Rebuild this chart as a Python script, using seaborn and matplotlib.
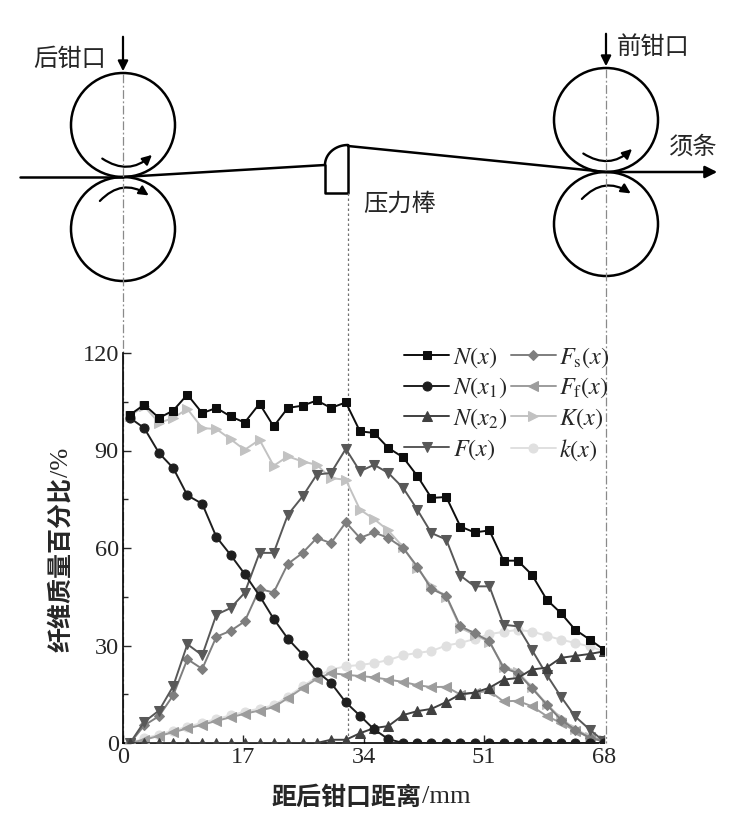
import matplotlib
matplotlib.use("Agg")
import matplotlib.pyplot as plt
from matplotlib.patches import Circle, FancyArrowPatch
import seaborn as sns
import numpy as np

# 测点位置 (mm) 与各曲线数值 (%)
x_mm = [1.0, 3.0, 5.1, 7.1, 9.1, 11.2, 13.2, 15.2, 17.2, 19.3, 21.3, 23.3,
        25.4, 27.4, 29.4, 31.5, 33.5, 35.5, 37.5, 39.6, 41.6, 43.6, 45.7,
        47.7, 49.7, 51.8, 53.8, 55.8, 57.8, 59.9, 61.9, 63.9, 66.0, 68.0]

N_x = [101.0, 104.1, 100.0, 102.3, 107.2, 101.5, 103.1, 100.5, 98.6, 104.4,
       97.4, 103.1, 103.8, 105.4, 103.1, 104.8, 95.9, 95.4, 90.8, 87.9, 82.2,
       75.4, 75.7, 66.6, 64.8, 65.4, 56.1, 56.1, 51.8, 44.1, 40.0, 34.9, 31.8, 28.7]
N_x1 = [100.0, 96.9, 89.2, 84.6, 76.2, 73.6, 63.4, 57.9, 52.0, 45.3, 38.2,
        32.1, 27.2, 22.0, 18.5, 12.5, 8.4, 4.2, 1.2, 0.0, 0.0, 0.0, 0.0, 0.0,
        0.0, 0.0, 0.0, 0.0, 0.0, 0.0, 0.0, 0.0, 0.0, 0.0]
N_x2 = [0.0, 0.0, 0.0, 0.0, 0.0, 0.0, 0.0, 0.0, 0.0, 0.0, 0.0, 0.0, 0.0, 0.0,
        1.0, 1.0, 3.0, 4.6, 5.2, 8.6, 9.8, 10.5, 12.6, 15.0, 15.5, 17.0, 19.5,
        20.0, 22.6, 23.2, 26.2, 26.8, 27.4, 28.2]
F_x = [0.0, 6.5, 10.0, 17.5, 30.4, 27.0, 39.5, 41.5, 46.2, 58.5, 58.5, 70.2,
       75.9, 82.6, 83.1, 90.5, 83.6, 85.6, 83.1, 78.5, 71.8, 64.6, 62.6, 51.5,
       48.2, 48.2, 36.4, 35.9, 28.7, 21.0, 14.3, 8.2, 4.1, 0.5]
Fs_x = [0.0, 5.4, 8.3, 14.7, 25.8, 22.8, 32.7, 34.5, 37.4, 47.4, 46.3, 55.1,
        58.5, 63.1, 61.5, 67.9, 63.1, 64.8, 63.1, 60.0, 54.3, 47.4, 45.3, 35.9,
        33.8, 31.3, 23.1, 21.5, 16.9, 11.8, 7.2, 4.1, 1.5, 0.5]
Ff_x = [0.0, 1.0, 2.2, 3.3, 4.5, 5.6, 6.8, 7.9, 9.0, 10.0, 11.0, 13.8, 16.9,
        19.8, 21.5, 21.0, 20.6, 20.2, 19.5, 18.8, 17.8, 17.2, 17.3, 14.9, 15.5,
        16.0, 12.8, 13.0, 11.3, 8.3, 6.2, 3.8, 1.8, 0.8]
K_x = [100.7, 103.6, 98.5, 100.0, 102.8, 96.9, 96.6, 93.5, 90.2, 93.3, 85.3,
       88.2, 86.6, 85.6, 81.5, 81.0, 71.8, 68.9, 65.4, 60.3, 53.8, 48.2, 45.0,
       35.4, 33.3, 31.0, 23.5, 22.0, 17.2, 12.0, 7.7, 4.3, 2.0, 0.8]
k_x = [0.0, 1.4, 2.6, 3.8, 5.0, 6.2, 7.4, 8.5, 9.6, 10.6, 11.6, 14.3, 17.4,
       20.4, 22.6, 23.6, 24.0, 24.6, 25.5, 27.0, 27.7, 28.3, 30.0, 30.8, 32.0,
       33.5, 34.2, 34.8, 34.3, 33.0, 31.8, 30.8, 29.7, 28.2]

labels = [r"$N(x)$", r"$N(x_1)$", r"$N(x_2)$", r"$F(x)$",
          r"$F_\mathrm{s}(x)$", r"$F_\mathrm{f}(x)$", r"$K(x)$", r"$k(x)$"]
values = [N_x, N_x1, N_x2, F_x, Fs_x, Ff_x, K_x, k_x]
colors = ["#0d0d0d", "#1e1e1e", "#404040", "#585858",
          "#7e7e7e", "#9c9c9c", "#c2c2c2", "#e0e0e0"]
markers = ["s", "o", "^", "v", "D", "<", ">", "o"]
msizes = [6, 6.5, 7, 7.5, 5.5, 7, 7, 6.5]

x_ticks = [0, 17, 34, 51, 68]
y_ticks = [0, 30, 60, 90, 120]

sns.set_style("ticks")
plt.rcParams["font.family"] = ["Liberation Serif", "Noto Sans CJK SC"]
plt.rcParams["mathtext.fontset"] = "stix"
cjk = ["Noto Sans CJK SC", "DejaVu Sans"]

W, H = 735, 836
fig = plt.figure(figsize=(W / 100, H / 100), dpi=100)

# 上方示意图（像素坐标）
deco = fig.add_axes([0, 0, 1, 1])
deco.set_xlim(0, W)
deco.set_ylim(H, 0)
deco.axis("off")

lk = dict(color="black", lw=1.8)
for cx, cy in [(123, 125), (123, 229), (606, 120), (606, 224)]:
    deco.add_patch(Circle((cx, cy), 52, fill=False, **lk))

# 须条与压力棒
deco.plot([20, 123], [177, 177], **lk)
deco.plot([123, 325], [177, 165], **lk)
t = np.linspace(np.pi, np.pi / 2, 30)
deco.plot(348 + 23 * np.cos(t), 165 - 20 * np.sin(t), **lk)
deco.plot([325, 325, 348, 348], [165, 193, 193, 145], **lk)
deco.plot([348, 606], [146, 172], **lk)
deco.annotate("", xy=(720, 172), xytext=(604, 172),
              arrowprops=dict(arrowstyle="-|>", lw=1.8, color="black", mutation_scale=18))

# 压力箭头
for cx, y0, y1 in [(123, 34, 74), (606, 31, 69)]:
    deco.annotate("", xy=(cx, y1), xytext=(cx, y0),
                  arrowprops=dict(arrowstyle="-|>", lw=1.6, color="black", mutation_scale=15))

# 罗拉转向弧形箭头
for p0, p1, rad in [((100, 157), (154, 153), 0.42), ((98, 203), (151, 197), -0.45),
                    ((581, 152), (634, 147), 0.42), ((580, 201), (633, 195), -0.45)]:
    deco.add_patch(FancyArrowPatch(p0, p1, connectionstyle=f"arc3,rad={rad}",
                                   arrowstyle="-|>", mutation_scale=14, lw=1.6, color="black"))

# 竖直参考线
deco.plot([123, 123], [74, 743], color="#8a8a8a", lw=0.9, linestyle=(0, (7, 2, 1.5, 2)))
deco.plot([606, 606], [69, 743], color="#8a8a8a", lw=0.9, linestyle=(0, (7, 2, 1.5, 2)))
deco.plot([348, 348], [193, 743], color="#707070", lw=0.9, linestyle=(0, (2, 2)))

deco.text(70, 59, "后钳口", fontsize=17.5, family=cjk, weight="medium", ha="center", va="center")
deco.text(653, 48, "前钳口", fontsize=17.5, family=cjk, weight="medium", ha="center", va="center")
deco.text(692, 147, "须条", fontsize=17.5, family=cjk, weight="medium", ha="center", va="center")
deco.text(400, 204, "压力棒", fontsize=17.5, family=cjk, weight="medium", ha="center", va="center")

# 曲线图
ax = fig.add_axes([123 / W, 1 - 743 / H, (604 - 123) / W, 390 / H])
ax.patch.set_alpha(0)
n = len(values)
for i, (lab, vals, c, m, ms) in enumerate(zip(labels, values, colors, markers, msizes)):
    sns.lineplot(x=x_mm, y=vals, ax=ax, color=c, marker=m, markersize=ms,
                 markeredgecolor=c, linewidth=1.4, label=lab, zorder=10 + n - i)

ax.set_xlim(0, 68)
ax.set_ylim(0, 120)
ax.set_xticks(x_ticks)
ax.set_yticks(y_ticks)
ax.set_yticks([15, 45, 75, 105], minor=True)
ax.tick_params(axis="both", which="major", direction="in", length=6, width=1,
               labelsize=17.5, pad=3)
ax.tick_params(axis="y", which="minor", direction="in", length=3.5, width=1)
sns.despine(ax=ax)
for s in ["left", "bottom"]:
    ax.spines[s].set_linewidth(1.2)
    ax.spines[s].set_color("black")
ax.set_xlabel("")
ax.set_ylabel("")

ax.legend(ncol=2, loc="upper left", bbox_to_anchor=(0.565, 1.045), frameon=False,
          fontsize=17.5, handlelength=1.85, handletextpad=0.15, columnspacing=0.15,
          labelspacing=0.26, borderaxespad=0)

# 坐标轴标题
fig.text(422 / W, 1 - 798 / H, "距后钳口距离", fontsize=18, family=cjk,
         weight="bold", ha="right", va="center")
fig.text(422 / W, 1 - 797 / H, "/mm", fontsize=19, ha="left", va="center")
fig.text(61 / W, 1 - 477 / H, "纤维质量百分比", fontsize=18, family=cjk,
         weight="bold", rotation=90, ha="center", va="top")
fig.text(62 / W, 1 - 477 / H, "/%", fontsize=19, rotation=90, ha="center", va="bottom")

fig.savefig("out.png", dpi=100)
